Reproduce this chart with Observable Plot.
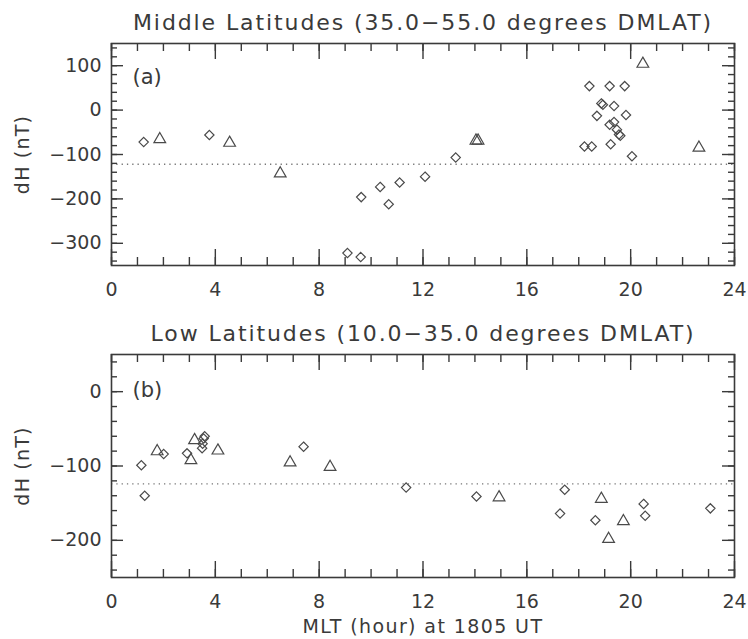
<!DOCTYPE html>
<html><head><meta charset="utf-8">
<script src="https://cdn.jsdelivr.net/npm/d3@7"></script>
<script src="https://cdn.jsdelivr.net/npm/@observablehq/plot@0.6"></script>
<style>
body{margin:0;background:#fff;}
#chart{width:748px;height:639px;}
#chart svg{display:block;}
</style></head><body><div id="chart"></div>
<script>
// ---- data ----
const hourTicks = [0, 4, 8, 12, 16, 20, 24];
const midTitle = "Middle Latitudes (35.0\u221255.0 degrees DMLAT)";
const lowTitle = "Low Latitudes (10.0\u221235.0 degrees DMLAT)";
const xTitle = "MLT (hour) at 1805 UT";
const yTitle = "dH (nT)";
const midYTicks = [-300, -200, -100, 0, 100];
const lowYTicks = [-200, -100, 0];
const midThreshold = -122;
const lowThreshold = -124;

const midDiamondHour = [1.24, 3.77, 9.09, 9.6, 9.62, 10.35, 10.68, 11.1, 12.08, 13.26, 18.22, 18.41, 18.5, 18.7, 18.87, 18.93, 19.19, 19.19, 19.23, 19.36, 19.36, 19.47, 19.55, 19.6, 19.77, 19.82, 20.05];
const midDiamondDH   = [-72, -56, -322, -331, -196, -173, -212, -163, -150, -107, -82, 54, -82, -13, 15, 12, 54, -33, -77, 9, -27, -44, -55, -58, 54, -11, -104];
const midTriangleHour = [1.86, 4.55, 6.5, 14.04, 14.12, 20.47, 22.63];
const midTriangleDH   = [-62, -70, -139, -65, -65, 108, -81];

const lowDiamondHour = [1.15, 1.28, 2.01, 2.91, 3.49, 3.51, 3.55, 3.59, 7.4, 11.35, 14.06, 17.28, 17.46, 18.64, 20.5, 20.56, 23.07];
const lowDiamondDH   = [-99, -140, -84, -83, -76, -70, -63, -60, -74, -129, -141, -164, -132, -173, -151, -167, -157];
const lowTriangleHour = [1.76, 3.06, 3.2, 4.1, 6.88, 8.42, 14.93, 18.87, 19.15, 19.72];
const lowTriangleDH   = [-78, -90, -63, -77, -93, -99, -140, -142, -196, -172];

// ---- drawing ----
const W = 748, ML = 111, MR = 14;
const ink = "#3a3a3a";
const font = "DejaVu Sans";

function pts(hours, vals) { return hours.map((h, i) => ({h, v: vals[i]})); }
function fmt(d) { return d < 0 ? "\u2212" + Math.abs(d) : String(d); }

function spaced(svg, text, spacing) {
  d3.select(svg).selectAll("text").filter(function () { return this.textContent === text; })
    .style("letter-spacing", spacing + "px");
}

function panel({title, tag, tagDy, domain, yTicks, diamonds, triangles, threshold, height, mt, mb, showXTitle}) {
  const fh = height - mt - mb, fw = W - ML - MR;
  const xMinor = d3.range(0, 25, 1);
  const yMinor = d3.range(Math.ceil((domain[0] + 1) / 20) * 20, domain[1], 20);
  const marks = [
    Plot.ruleY([threshold], {y: d => d, stroke: "#777", strokeWidth: 1.3, strokeDasharray: "1.3,4"}),
    // x ticks (inside, bottom & top)
    Plot.ruleX(xMinor, {x: d => d, insetTop: fh - 8, stroke: ink, strokeWidth: 1.4}),
    Plot.ruleX(xMinor, {x: d => d, insetBottom: fh - 8, stroke: ink, strokeWidth: 1.4}),
    Plot.ruleX(hourTicks, {x: d => d, insetTop: fh - 16, stroke: ink, strokeWidth: 1.4}),
    Plot.ruleX(hourTicks, {x: d => d, insetBottom: fh - 16, stroke: ink, strokeWidth: 1.4}),
    // y ticks (inside, left & right)
    Plot.ruleY(yMinor, {y: d => d, insetRight: fw - 6, stroke: ink, strokeWidth: 1.4}),
    Plot.ruleY(yMinor, {y: d => d, insetLeft: fw - 6, stroke: ink, strokeWidth: 1.4}),
    Plot.ruleY(yTicks, {y: d => d, insetRight: fw - 12, stroke: ink, strokeWidth: 1.4}),
    Plot.ruleY(yTicks, {y: d => d, insetLeft: fw - 12, stroke: ink, strokeWidth: 1.4}),
    Plot.frame({stroke: ink, strokeWidth: 1.6}),
    // tick labels
    Plot.text(hourTicks, {x: d => d, text: d => String(d), frameAnchor: "bottom", dy: 24, lineAnchor: "middle", fontSize: 19, fill: ink}),
    Plot.text(yTicks, {y: d => d, text: fmt, frameAnchor: "left", textAnchor: "end", dx: -10, fontSize: 19, fill: ink}),
    Plot.text([yTitle], {frameAnchor: "left", dx: -89, rotate: -90, textAnchor: "middle", lineAnchor: "middle", fontSize: 19, fill: ink}),
    Plot.text([title], {frameAnchor: "top", dy: -21, lineAnchor: "middle", textAnchor: "middle", fontSize: 22, fill: ink}),
    Plot.text([tag], {frameAnchor: "top-left", dx: 21, dy: tagDy, textAnchor: "start", lineAnchor: "middle", fontSize: 21, fill: ink}),
    // data
    Plot.dot(diamonds, {x: "h", y: "v", symbol: "diamond2", r: 4.2, stroke: "#4a4a4a", strokeWidth: 1.2}),
    Plot.dot(triangles, {x: "h", y: "v", symbol: "triangle2", r: 5.6, dy: 1.7, stroke: "#4a4a4a", strokeWidth: 1.2})
  ];
  if (showXTitle) marks.push(Plot.text([xTitle], {frameAnchor: "bottom", dy: 49, lineAnchor: "middle", textAnchor: "middle", fontSize: 19, fill: ink}));
  const svg = Plot.plot({
    width: W, height,
    marginLeft: ML, marginRight: MR, marginTop: mt, marginBottom: mb,
    style: {fontFamily: font, background: "#fff", overflow: "visible"},
    x: {domain: [0, 24], axis: null},
    y: {domain, axis: null},
    marks
  });
  spaced(svg, title, 1.9);
  spaced(svg, yTitle, 1.2);
  spaced(svg, xTitle, 1.4);
  return svg;
}

const chart = document.getElementById("chart");
chart.append(panel({title: midTitle, tag: "(a)", tagDy: 34, domain: [-350, 150], yTicks: midYTicks,
  diamonds: pts(midDiamondHour, midDiamondDH), triangles: pts(midTriangleHour, midTriangleDH),
  threshold: midThreshold, height: 300, mt: 43, mb: 35, showXTitle: false}));
chart.append(panel({title: lowTitle, tag: "(b)", tagDy: 36, domain: [-250, 50], yTicks: lowYTicks,
  diamonds: pts(lowDiamondHour, lowDiamondDH), triangles: pts(lowTriangleHour, lowTriangleDH),
  threshold: lowThreshold, height: 339, mt: 54, mb: 62, showXTitle: true}));
</script></body></html>
